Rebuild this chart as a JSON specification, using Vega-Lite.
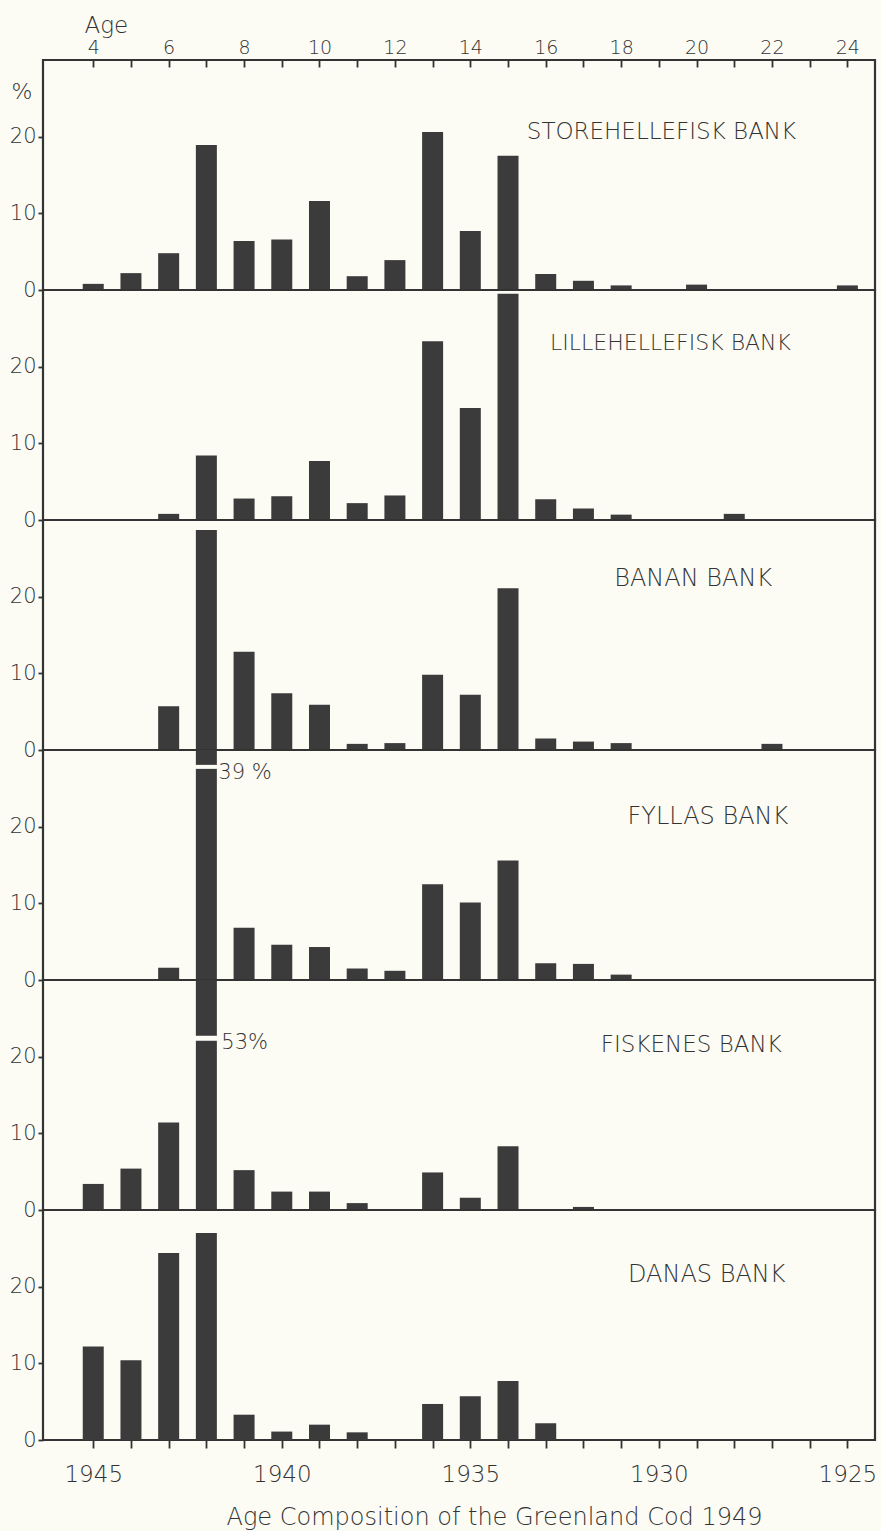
{
  "$schema": "https://vega.github.io/schema/vega-lite/v6.json",
  "background": "#fcfcf5",
  "padding": {"left": 8, "top": 12, "right": 4, "bottom": 0},
  "spacing": 0,
  "bounds": "flush",
  "datasets": {
    "bars": [
      {"bank": "STOREHELLEFISK", "age": 4, "pct": 0.8},
      {"bank": "STOREHELLEFISK", "age": 5, "pct": 2.2},
      {"bank": "STOREHELLEFISK", "age": 6, "pct": 4.8},
      {"bank": "STOREHELLEFISK", "age": 7, "pct": 18.9},
      {"bank": "STOREHELLEFISK", "age": 8, "pct": 6.4},
      {"bank": "STOREHELLEFISK", "age": 9, "pct": 6.6},
      {"bank": "STOREHELLEFISK", "age": 10, "pct": 11.6},
      {"bank": "STOREHELLEFISK", "age": 11, "pct": 1.8},
      {"bank": "STOREHELLEFISK", "age": 12, "pct": 3.9},
      {"bank": "STOREHELLEFISK", "age": 13, "pct": 20.6},
      {"bank": "STOREHELLEFISK", "age": 14, "pct": 7.7},
      {"bank": "STOREHELLEFISK", "age": 15, "pct": 17.5},
      {"bank": "STOREHELLEFISK", "age": 16, "pct": 2.1},
      {"bank": "STOREHELLEFISK", "age": 17, "pct": 1.2},
      {"bank": "STOREHELLEFISK", "age": 18, "pct": 0.6},
      {"bank": "STOREHELLEFISK", "age": 20, "pct": 0.7},
      {"bank": "STOREHELLEFISK", "age": 24, "pct": 0.6},
      {"bank": "LILLEHELLEFISK", "age": 6, "pct": 0.8},
      {"bank": "LILLEHELLEFISK", "age": 7, "pct": 8.4},
      {"bank": "LILLEHELLEFISK", "age": 8, "pct": 2.8},
      {"bank": "LILLEHELLEFISK", "age": 9, "pct": 3.1},
      {"bank": "LILLEHELLEFISK", "age": 10, "pct": 7.7},
      {"bank": "LILLEHELLEFISK", "age": 11, "pct": 2.2},
      {"bank": "LILLEHELLEFISK", "age": 12, "pct": 3.2},
      {"bank": "LILLEHELLEFISK", "age": 13, "pct": 23.3},
      {"bank": "LILLEHELLEFISK", "age": 14, "pct": 14.6},
      {"bank": "LILLEHELLEFISK", "age": 15, "pct": 29.5},
      {"bank": "LILLEHELLEFISK", "age": 16, "pct": 2.7},
      {"bank": "LILLEHELLEFISK", "age": 17, "pct": 1.5},
      {"bank": "LILLEHELLEFISK", "age": 18, "pct": 0.7},
      {"bank": "LILLEHELLEFISK", "age": 21, "pct": 0.8},
      {"bank": "BANAN", "age": 6, "pct": 5.7},
      {"bank": "BANAN", "age": 7, "pct": 28.7},
      {"bank": "BANAN", "age": 8, "pct": 12.8},
      {"bank": "BANAN", "age": 9, "pct": 7.4},
      {"bank": "BANAN", "age": 10, "pct": 5.9},
      {"bank": "BANAN", "age": 11, "pct": 0.8},
      {"bank": "BANAN", "age": 12, "pct": 0.9},
      {"bank": "BANAN", "age": 13, "pct": 9.8},
      {"bank": "BANAN", "age": 14, "pct": 7.2},
      {"bank": "BANAN", "age": 15, "pct": 21.1},
      {"bank": "BANAN", "age": 16, "pct": 1.5},
      {"bank": "BANAN", "age": 17, "pct": 1.1},
      {"bank": "BANAN", "age": 18, "pct": 0.9},
      {"bank": "BANAN", "age": 22, "pct": 0.8},
      {"bank": "FYLLAS", "age": 6, "pct": 1.6},
      {"bank": "FYLLAS", "age": 7, "pct": 39},
      {"bank": "FYLLAS", "age": 8, "pct": 6.8},
      {"bank": "FYLLAS", "age": 9, "pct": 4.6},
      {"bank": "FYLLAS", "age": 10, "pct": 4.3},
      {"bank": "FYLLAS", "age": 11, "pct": 1.5},
      {"bank": "FYLLAS", "age": 12, "pct": 1.2},
      {"bank": "FYLLAS", "age": 13, "pct": 12.5},
      {"bank": "FYLLAS", "age": 14, "pct": 10.1},
      {"bank": "FYLLAS", "age": 15, "pct": 15.6},
      {"bank": "FYLLAS", "age": 16, "pct": 2.2},
      {"bank": "FYLLAS", "age": 17, "pct": 2.1},
      {"bank": "FYLLAS", "age": 18, "pct": 0.7},
      {"bank": "FISKENES", "age": 4, "pct": 3.4},
      {"bank": "FISKENES", "age": 5, "pct": 5.4},
      {"bank": "FISKENES", "age": 6, "pct": 11.4},
      {"bank": "FISKENES", "age": 7, "pct": 53},
      {"bank": "FISKENES", "age": 8, "pct": 5.2},
      {"bank": "FISKENES", "age": 9, "pct": 2.4},
      {"bank": "FISKENES", "age": 10, "pct": 2.4},
      {"bank": "FISKENES", "age": 11, "pct": 0.9},
      {"bank": "FISKENES", "age": 13, "pct": 4.9},
      {"bank": "FISKENES", "age": 14, "pct": 1.6},
      {"bank": "FISKENES", "age": 15, "pct": 8.3},
      {"bank": "FISKENES", "age": 17, "pct": 0.4},
      {"bank": "DANAS", "age": 4, "pct": 12.2},
      {"bank": "DANAS", "age": 5, "pct": 10.4},
      {"bank": "DANAS", "age": 6, "pct": 24.4},
      {"bank": "DANAS", "age": 7, "pct": 27.0},
      {"bank": "DANAS", "age": 8, "pct": 3.3},
      {"bank": "DANAS", "age": 9, "pct": 1.1},
      {"bank": "DANAS", "age": 10, "pct": 2.0},
      {"bank": "DANAS", "age": 11, "pct": 1.0},
      {"bank": "DANAS", "age": 13, "pct": 4.7},
      {"bank": "DANAS", "age": 14, "pct": 5.7},
      {"bank": "DANAS", "age": 15, "pct": 7.7},
      {"bank": "DANAS", "age": 16, "pct": 2.2}
    ],
    "banks": [
      {"bank": "STOREHELLEFISK", "label": "STOREHELLEFISK BANK"},
      {"bank": "LILLEHELLEFISK", "label": "LILLEHELLEFISK BANK"},
      {"bank": "BANAN", "label": "BANAN BANK"},
      {"bank": "FYLLAS", "label": "FYLLAS BANK", "note": "39 %"},
      {"bank": "FISKENES", "label": "FISKENES BANK", "note": "53%"},
      {"bank": "DANAS", "label": "DANAS BANK"}
    ]
  },
  "vconcat": [
    {
      "width": 832, "height": 230,
      "layer": [
        {
          "data": {"name": "bars"},
          "transform": [{"filter": "datum.bank == 'STOREHELLEFISK'"}],
          "mark": {"type": "bar", "width": 21, "clip": true, "color": "#3b3b3b"},
          "encoding": {
            "x": {"field": "age", "type": "quantitative", "scale": {"domain": [2.8, 24.6], "nice": false, "zero": false},
              "axis": {"orient": "top", "values": [4,5,6,7,8,9,10,11,12,13,14,15,16,17,18,19,20,21,22,23,24],
                "labelExpr": "datum.value % 2 == 0 ? datum.label : ''", "tickSize": -7, "labelPadding": 10,
                "labelFontSize": 19, "title": "Age", "titleAngle": 0, "titleX": 41, "titleY": -28,
                "titleAlign": "left", "titleBaseline": "alphabetic", "titleFontSize": 23}},
            "y": {"field": "pct", "type": "quantitative", "scale": {"domain": [0, 30], "nice": false},
              "axis": {"values": [0, 10, 20], "title": "%", "titleAngle": 0, "titleX": -32, "titleY": 38,
                "titleAlign": "left", "titleBaseline": "alphabetic", "titleFontSize": 22}}
          }
        },
        {
          "data": {"name": "banks"},
          "transform": [{"filter": "datum.bank == 'STOREHELLEFISK'"}],
          "mark": {"type": "text", "align": "center", "baseline": "middle", "fontSize": 23, "color": "#333333", "fontWeight": 200},
          "encoding": {
            "x": {"datum": 19.07, "type": "quantitative"},
            "y": {"datum": 20.6, "type": "quantitative"},
            "text": {"field": "label"}
          }
        }
      ]
    },
    {
      "width": 832, "height": 230,
      "layer": [
        {
          "data": {"name": "bars"},
          "transform": [{"filter": "datum.bank == 'LILLEHELLEFISK'"}],
          "mark": {"type": "bar", "width": 21, "clip": true, "color": "#3b3b3b"},
          "encoding": {
            "x": {"field": "age", "type": "quantitative", "scale": {"domain": [2.8, 24.6], "nice": false, "zero": false}, "axis": null},
            "y": {"field": "pct", "type": "quantitative", "scale": {"domain": [0, 30], "nice": false}, "axis": {"values": [0, 10, 20], "title": null}}
          }
        },
        {
          "data": {"name": "banks"},
          "transform": [{"filter": "datum.bank == 'LILLEHELLEFISK'"}],
          "mark": {"type": "text", "align": "center", "baseline": "middle", "fontSize": 22, "color": "#333333", "fontWeight": 200},
          "encoding": {
            "x": {"datum": 19.31, "type": "quantitative"},
            "y": {"datum": 23.1, "type": "quantitative"},
            "text": {"field": "label"}
          }
        }
      ]
    },
    {
      "width": 832, "height": 230,
      "layer": [
        {
          "data": {"name": "bars"},
          "transform": [{"filter": "datum.bank == 'BANAN'"}],
          "mark": {"type": "bar", "width": 21, "clip": true, "color": "#3b3b3b"},
          "encoding": {
            "x": {"field": "age", "type": "quantitative", "scale": {"domain": [2.8, 24.6], "nice": false, "zero": false}, "axis": null},
            "y": {"field": "pct", "type": "quantitative", "scale": {"domain": [0, 30], "nice": false}, "axis": {"values": [0, 10, 20], "title": null}}
          }
        },
        {
          "data": {"name": "banks"},
          "transform": [{"filter": "datum.bank == 'BANAN'"}],
          "mark": {"type": "text", "align": "center", "baseline": "middle", "fontSize": 24, "color": "#333333", "fontWeight": 200},
          "encoding": {
            "x": {"datum": 19.91, "type": "quantitative"},
            "y": {"datum": 22.3, "type": "quantitative"},
            "text": {"field": "label"}
          }
        }
      ]
    },
    {
      "width": 832, "height": 230,
      "layer": [
        {
          "data": {"name": "bars"},
          "transform": [{"filter": "datum.bank == 'FYLLAS'"}],
          "mark": {"type": "bar", "width": 21, "clip": true, "color": "#3b3b3b"},
          "encoding": {
            "x": {"field": "age", "type": "quantitative", "scale": {"domain": [2.8, 24.6], "nice": false, "zero": false}, "axis": null},
            "y": {"field": "pct", "type": "quantitative", "scale": {"domain": [0, 30], "nice": false}, "axis": {"values": [0, 10, 20], "title": null}}
          }
        },
        {
          "data": {"name": "banks"},
          "transform": [{"filter": "datum.bank == 'FYLLAS'"}],
          "mark": {"type": "tick", "orient": "horizontal", "size": 23, "thickness": 4, "color": "#fcfcf5", "opacity": 1},
          "encoding": {
            "x": {"datum": 7, "type": "quantitative"},
            "y": {"datum": 27.8, "type": "quantitative"}
          }
        },
        {
          "data": {"name": "banks"},
          "transform": [{"filter": "datum.bank == 'FYLLAS'"}],
          "mark": {"type": "text", "align": "left", "baseline": "middle", "fontSize": 21, "dx": 12, "color": "#333333", "fontWeight": 200},
          "encoding": {
            "x": {"datum": 7, "type": "quantitative"},
            "y": {"datum": 27.0, "type": "quantitative"},
            "text": {"field": "note"}
          }
        },
        {
          "data": {"name": "banks"},
          "transform": [{"filter": "datum.bank == 'FYLLAS'"}],
          "mark": {"type": "text", "align": "center", "baseline": "middle", "fontSize": 24, "color": "#333333", "fontWeight": 200},
          "encoding": {
            "x": {"datum": 20.3, "type": "quantitative"},
            "y": {"datum": 21.2, "type": "quantitative"},
            "text": {"field": "label"}
          }
        }
      ]
    },
    {
      "width": 832, "height": 230,
      "layer": [
        {
          "data": {"name": "bars"},
          "transform": [{"filter": "datum.bank == 'FISKENES'"}],
          "mark": {"type": "bar", "width": 21, "clip": true, "color": "#3b3b3b"},
          "encoding": {
            "x": {"field": "age", "type": "quantitative", "scale": {"domain": [2.8, 24.6], "nice": false, "zero": false}, "axis": null},
            "y": {"field": "pct", "type": "quantitative", "scale": {"domain": [0, 30], "nice": false}, "axis": {"values": [0, 10, 20], "title": null}}
          }
        },
        {
          "data": {"name": "banks"},
          "transform": [{"filter": "datum.bank == 'FISKENES'"}],
          "mark": {"type": "tick", "orient": "horizontal", "size": 23, "thickness": 5, "color": "#fcfcf5", "opacity": 1},
          "encoding": {
            "x": {"datum": 7, "type": "quantitative"},
            "y": {"datum": 22.4, "type": "quantitative"}
          }
        },
        {
          "data": {"name": "banks"},
          "transform": [{"filter": "datum.bank == 'FISKENES'"}],
          "mark": {"type": "text", "align": "left", "baseline": "middle", "fontSize": 21, "dx": 15, "color": "#333333", "fontWeight": 200},
          "encoding": {
            "x": {"datum": 7, "type": "quantitative"},
            "y": {"datum": 21.8, "type": "quantitative"},
            "text": {"field": "note"}
          }
        },
        {
          "data": {"name": "banks"},
          "transform": [{"filter": "datum.bank == 'FISKENES'"}],
          "mark": {"type": "text", "align": "center", "baseline": "middle", "fontSize": 23, "color": "#333333", "fontWeight": 200},
          "encoding": {
            "x": {"datum": 19.86, "type": "quantitative"},
            "y": {"datum": 21.5, "type": "quantitative"},
            "text": {"field": "label"}
          }
        }
      ]
    },
    {
      "width": 832, "height": 230,
      "layer": [
        {
          "data": {"name": "bars"},
          "transform": [{"filter": "datum.bank == 'DANAS'"}],
          "mark": {"type": "bar", "width": 21, "clip": true, "color": "#3b3b3b"},
          "encoding": {
            "x": {"field": "age", "type": "quantitative", "scale": {"domain": [2.8, 24.6], "nice": false, "zero": false},
              "axis": {"orient": "bottom", "values": [4,5,6,7,8,9,10,11,12,13,14,15,16,17,18,19,20,21,22,23,24],
                "labelExpr": "(datum.value - 4) % 5 == 0 ? '' + (1949 - datum.value) : ''", "tickSize": 8, "labelPadding": 15,
                "labelFontSize": 23, "title": "Age Composition of the Greenland Cod 1949", "titleFontSize": 24,
                "titlePadding": 19, "titleX": 451, "titleBaseline": "top"}},
            "y": {"field": "pct", "type": "quantitative", "scale": {"domain": [0, 30], "nice": false}, "axis": {"values": [0, 10, 20], "title": null}}
          }
        },
        {
          "data": {"name": "banks"},
          "transform": [{"filter": "datum.bank == 'DANAS'"}],
          "mark": {"type": "text", "align": "center", "baseline": "middle", "fontSize": 24, "color": "#333333", "fontWeight": 200},
          "encoding": {
            "x": {"datum": 20.27, "type": "quantitative"},
            "y": {"datum": 21.5, "type": "quantitative"},
            "text": {"field": "label"}
          }
        }
      ]
    }
  ],
  "config": {
    "font": "DejaVu Sans",
    "view": {"stroke": "#333333", "strokeWidth": 2.2},
    "axis": {
      "domain": false, "grid": false,
      "labelFont": "DejaVu Sans", "labelColor": "#333333", "labelFontWeight": 200,
      "titleFont": "DejaVu Sans", "titleColor": "#333333", "titleFontWeight": 200,
      "tickColor": "#333333", "tickWidth": 1.8
    },
    "axisY": {"tickSize": 5, "labelPadding": 2, "labelFontSize": 21}
  }
}
